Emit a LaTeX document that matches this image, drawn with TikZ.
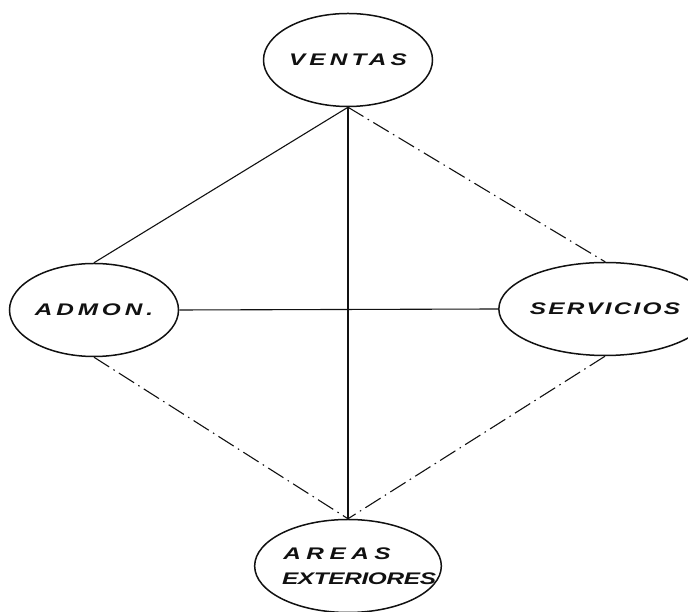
\documentclass[tikz,border=0pt]{standalone}
\usepackage{fontspec}
\usetikzlibrary{shapes.geometric}
\newfontfamily\letterfont{Liberation Sans}[FakeStretch=1.45]
\definecolor{inkblk}{HTML}{111111}

\begin{document}
\begin{tikzpicture}[x=1pt, y=1pt,
    area/.style={draw=inkblk, ellipse, line width=1.5pt, minimum width=169pt,
                 minimum height=93pt, inner sep=0pt, text=inkblk, align=center,
                 font=\letterfont\bfseries\itshape\fontsize{16.8}{25}\selectfont},
    link/.style={draw=inkblk, line width=1.1pt},
    weak/.style={link, dash pattern=on 18pt off 5pt on 1.5pt off 5pt}]
        \useasboundingbox (0,0) rectangle (688,612);
        \node[area] (ventas) at (348,552) {\addfontfeature{LetterSpace=25}VENTAS};
        \node[area] (admon) at (94,302) {\addfontfeature{LetterSpace=23}ADMON.};
        \node[area] (servicios) at (605,303) {\addfontfeature{LetterSpace=13}SERVICIOS};
        \node[area] (areas) at (348,46)
             {\addfontfeature{LetterSpace=33}AREAS\hspace*{22pt}\\
              \addfontfeature{LetterSpace=-2}EXTERIORES\hspace*{-22pt}};
        \draw[link] (ventas.south) -- (admon.north);
        \draw[link] (ventas.south) -- (areas.north);
        \draw[link] (admon.east) -- (servicios.west);
        \draw[weak] (ventas.south) -- (servicios.north);
        \draw[weak] (admon.south) -- (areas.north);
        \draw[weak] (servicios.south) -- (areas.north);
      \end{tikzpicture}
\end{document}
